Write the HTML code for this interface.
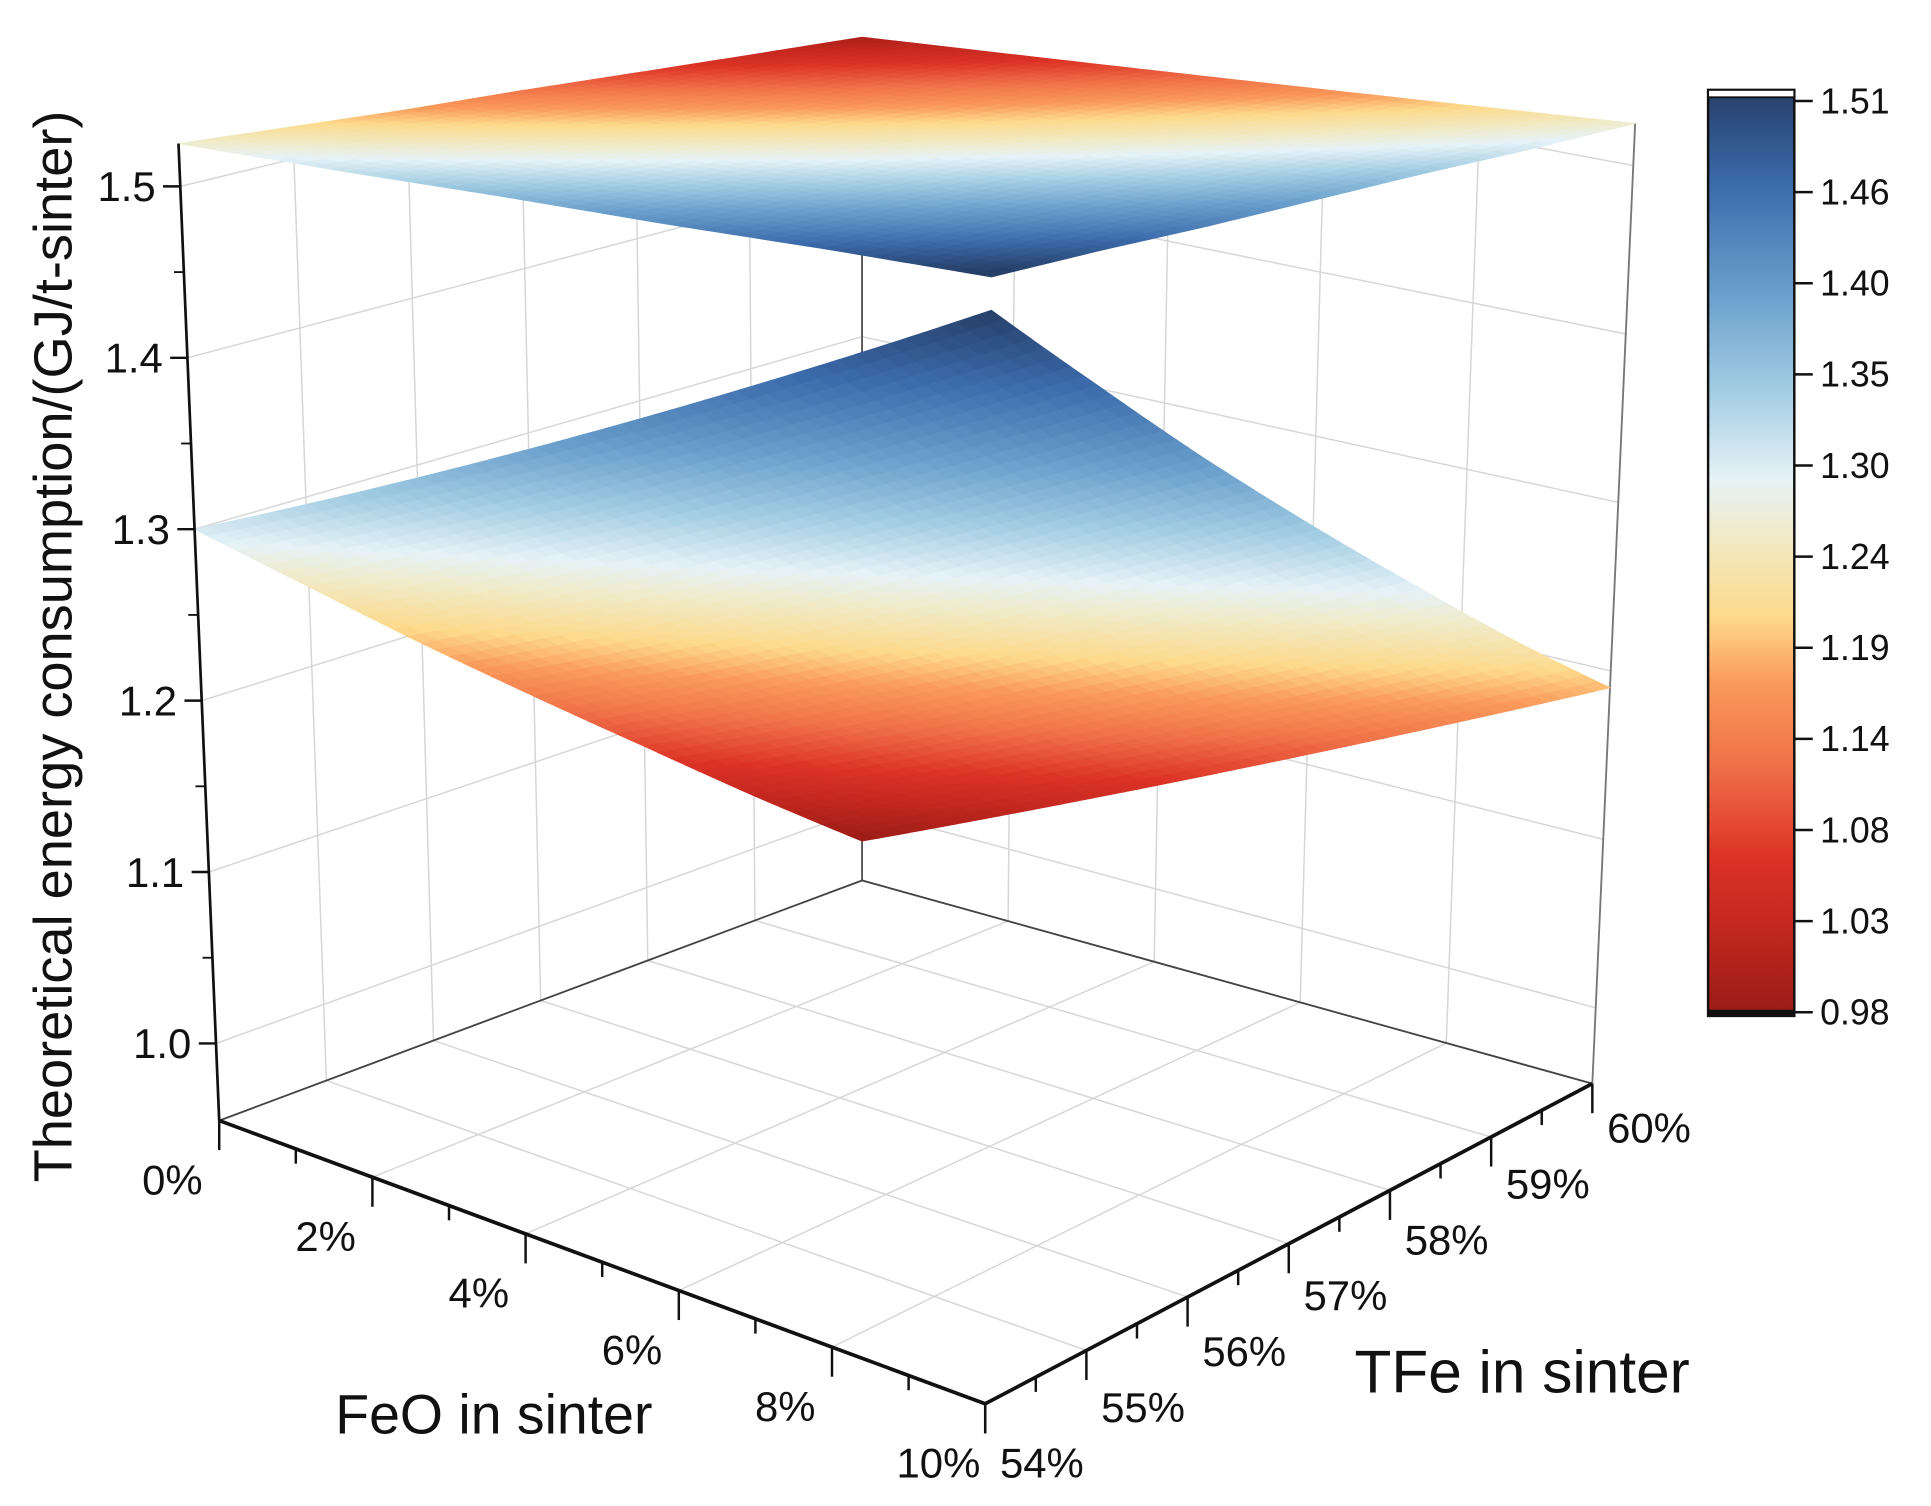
<!DOCTYPE html>
<html><head><meta charset="utf-8"><style>
html,body{margin:0;padding:0;background:#fff;}
svg{display:block;}
text{font-family:"Liberation Sans",Arial,sans-serif;fill:#111;}
</style></head><body>
<svg id="chart" width="1931" height="1506" viewBox="0 0 1568 1223" preserveAspectRatio="none" xmlns="http://www.w3.org/2000/svg">
<defs>
<linearGradient id="cbar" x1="0" y1="1" x2="0" y2="0">
<stop offset="0" stop-color="#9a1c16"/><stop offset="0.1" stop-color="#c42820"/><stop offset="0.17" stop-color="#dc3226"/><stop offset="0.27" stop-color="#f07048"/><stop offset="0.36" stop-color="#fa9a5a"/><stop offset="0.43" stop-color="#fdd98a"/><stop offset="0.52" stop-color="#f0ebc8"/><stop offset="0.58" stop-color="#e6f2f7"/><stop offset="0.68" stop-color="#a0cbe2"/><stop offset="0.78" stop-color="#6a9fcc"/><stop offset="0.9" stop-color="#3b6aaa"/><stop offset="1" stop-color="#263f68"/>
</linearGradient>
<clipPath id="wallclip"><polygon id="wallclippoly" points="0,0"/></clipPath>
</defs>
<g id="walls" clip-path="url(#wallclip)"></g>
<g id="edges"></g>
<g id="surfaces"></g>
<g id="axes"></g>
<text transform="translate(58,525) rotate(-90)" text-anchor="middle" font-size="44">Theoretical energy consumption/(GJ/t-sinter)</text>
<text x="401" y="1164" text-anchor="middle" font-size="45">FeO in sinter</text>
<text x="1236" y="1131" text-anchor="middle" font-size="49">TFe in sinter</text>
<g>
<rect x="1387" y="73" width="70" height="752" fill="url(#cbar)" stroke="#111" stroke-width="2"/>
<g id="cbticks"></g>
</g>
</svg>
<script>
// ----- data -----
const feoTicks = [0, 2, 4, 6, 8, 10];
const tfeTicks = [54, 55, 56, 57, 58, 59, 60];
const zTicks = [1.0, 1.1, 1.2, 1.3, 1.4, 1.5];
const cbLabels = ["1.51","1.46","1.40","1.35","1.30","1.24","1.19","1.14","1.08","1.03","0.98"];
// z values of the lower surface: rows = FeO (0..10 by 2), cols = TFe (54..60)
const lowerZ = [
 [1.300,1.247,1.193,1.140,1.087,1.033,0.980],
 [1.342,1.289,1.235,1.182,1.129,1.075,1.022],
 [1.384,1.331,1.277,1.224,1.171,1.117,1.064],
 [1.426,1.373,1.319,1.266,1.213,1.159,1.106],
 [1.468,1.415,1.361,1.308,1.255,1.201,1.148],
 [1.510,1.457,1.403,1.350,1.297,1.243,1.190]
];
const upperZ = [
 [1.525,1.519,1.513,1.508,1.502,1.496,1.490],
 [1.525,1.521,1.516,1.511,1.506,1.502,1.497],
 [1.526,1.522,1.519,1.515,1.511,1.508,1.504],
 [1.526,1.524,1.521,1.519,1.516,1.514,1.511],
 [1.527,1.525,1.524,1.522,1.521,1.519,1.518],
 [1.527,1.527,1.526,1.526,1.526,1.525,1.525]
];
// ----- projection -----
const ZMIN=0.955, ZMAX=1.525, FMIN=0, FMAX=10, TMIN=54, TMAX=60;
const C = {
 L:{x:178,y:910,s:1392,dx:-58},
 F:{x:800,y:1140,s:1600,dx:9},
 B:{x:700,y:715,s:1280,dx:0},
 R:{x:1293,y:880,s:1368,dx:61}
};
function proj(f,t,z){
 const a=(f-FMIN)/(FMAX-FMIN), b=(t-TMIN)/(TMAX-TMIN);
 const wL=(1-a)*(1-b), wF=a*(1-b), wB=(1-a)*b, wR=a*b;
 const k=['L','F','B','R'], w=[wL,wF,wB,wR];
 let x=0,y=0,s=0,dx=0;
 for(let i=0;i<4;i++){const c=C[k[i]];x+=c.x*w[i];y+=c.y*w[i];s+=c.s*w[i];dx+=c.dx*w[i];}
 return [x+dx*(z-ZMIN), y-s*(z-ZMIN)];
}
const stops=[[0,[154,28,22]],[0.1,[196,40,32]],[0.17,[220,50,38]],[0.27,[240,112,72]],[0.36,[250,154,90]],[0.43,[253,217,138]],[0.52,[240,235,200]],[0.58,[230,242,247]],[0.68,[160,203,226]],[0.78,[106,159,204]],[0.9,[59,106,170]],[1,[38,63,104]]];
function cmap(t){t=Math.max(0,Math.min(1,t));for(let i=1;i<stops.length;i++){if(t<=stops[i][0]){const [t0,c0]=stops[i-1],[t1,c1]=stops[i];const u=(t-t0)/(t1-t0);return 'rgb('+c0.map((v,j)=>Math.round(v+(c1[j]-v)*u)).join(',')+')';}}return 'rgb(38,63,104)';}
const NS='http://www.w3.org/2000/svg';
function el(tag,attrs,parent){const e=document.createElementNS(NS,tag);for(const k in attrs)e.setAttribute(k,attrs[k]);parent.appendChild(e);return e;}
function pts(a){return a.map(p=>p[0].toFixed(2)+','+p[1].toFixed(2)).join(' ');}
const walls=document.getElementById('walls'), edges=document.getElementById('edges'), axes=document.getElementById('axes'), surf=document.getElementById('surfaces');
const G='#d6d6d6';
// clip walls to the region below the upper surface's back edges
const nT=upperZ[0].length-1, nF=upperZ.length-1;
const clipPts=[proj(0,TMIN,ZMIN-0.01)];
clipPts.push([proj(0,TMIN,ZMIN)[0]-3,proj(0,TMIN,ZMIN)[1]]);
for(let j=0;j<=nT;j++){clipPts.push(proj(0,TMIN+j*(TMAX-TMIN)/nT,upperZ[0][j]));}
for(let i=1;i<=nF;i++){clipPts.push(proj(FMIN+i*(FMAX-FMIN)/nF,TMAX,upperZ[i][nT]));}
clipPts.push([proj(FMAX,TMAX,ZMIN)[0]+3,proj(FMAX,TMAX,ZMIN)[1]]);
clipPts.push(proj(FMAX,TMIN,ZMIN));
document.getElementById('wallclippoly').setAttribute('points',pts(clipPts));
function gl(p,q,name,parent,col,w){const l=el('line',{x1:p[0],y1:p[1],x2:q[0],y2:q[1],stroke:col||G,'stroke-width':w||1.2},parent||walls);

}
// floor grid
for(const f of feoTicks) gl(proj(f,TMIN,ZMIN),proj(f,TMAX,ZMIN),'floor-grid-feo');
for(const t of tfeTicks) gl(proj(FMIN,t,ZMIN),proj(FMAX,t,ZMIN),'floor-grid-tfe');
// left back wall (f=0)
for(const t of tfeTicks) gl(proj(0,t,ZMIN),proj(0,t,ZMAX+0.05),'left-wall-grid-v');
for(const z of zTicks) gl(proj(0,TMIN,z),proj(0,TMAX,z),'left-wall-grid-h');
// right back wall (t=60)
for(const f of feoTicks) gl(proj(f,TMAX,ZMIN),proj(f,TMAX,ZMAX+0.05),'right-wall-grid-v');
for(const z of zTicks) gl(proj(FMIN,TMAX,z),proj(FMAX,TMAX,z),'right-wall-grid-h');
// box edges
gl(proj(0,TMIN,ZMIN),proj(0,TMAX,ZMIN),'floor-back-edge-left',edges,'#444',1.5);
gl(proj(0,TMAX,ZMIN),proj(FMAX,TMAX,ZMIN),'floor-back-edge-right',edges,'#444',1.5);
gl(proj(0,TMAX,ZMIN),proj(0,TMAX,upperZ[0][nT]),'back-vertical-edge',edges,'#555',1.5);
gl(proj(FMAX,TMAX,ZMIN),proj(FMAX,TMAX,upperZ[nF][nT]),'right-vertical-edge',edges,'#777',1.5);
// surfaces
function bil(grid,fi,ti){
 const i0=Math.min(Math.floor(fi),grid.length-2),j0=Math.min(Math.floor(ti),grid[0].length-2);
 const u=fi-i0,v=ti-j0;
 return grid[i0][j0]*(1-u)*(1-v)+grid[i0+1][j0]*u*(1-v)+grid[i0][j0+1]*(1-u)*v+grid[i0+1][j0+1]*u*v;
}
function drawSurface(grid,name,colorFn){
 const g=el('g',{},surf);
 
 
 const N=48, nf=grid.length-1, nt=grid[0].length-1;
 for(let i=0;i<N;i++)for(let j=0;j<N;j++){
  const c=[[i,j],[i+1,j],[i+1,j+1],[i,j+1]].map(([a,b])=>{const fi=a/N*nf,ti=b/N*nt;const f=FMIN+a/N*(FMAX-FMIN),t=TMIN+b/N*(TMAX-TMIN);return proj(f,t,bil(grid,fi,ti));});
  const col=colorFn((i+0.5)/N*nf,(j+0.5)/N*nt,(i+0.5)/N,(j+0.5)/N);
  el('polygon',{points:pts(c),fill:col,stroke:col,'stroke-width':0.8},g);
 }
}
let lmin=Infinity,lmax=-Infinity;lowerZ.forEach(r=>r.forEach(v=>{lmin=Math.min(lmin,v);lmax=Math.max(lmax,v);}));
drawSurface(lowerZ,'lower-surface',(fi,ti)=>cmap((bil(lowerZ,fi,ti)-lmin)/(lmax-lmin)));
drawSurface(upperZ,'upper-surface',(fi,ti,a,b)=>cmap(0.53+0.49*(a-b)));
// axes
function line(p,q,w,name){const l=el('line',{x1:p[0],y1:p[1],x2:q[0],y2:q[1],stroke:'#111','stroke-width':w},axes);

}
line(proj(0,TMIN,ZMIN),proj(0,TMIN,ZMAX),2.2,'z-axis-line');
line(proj(0,TMIN,ZMIN),proj(FMAX,TMIN,ZMIN),3,'feo-axis-line');
line(proj(FMAX,TMIN,ZMIN),proj(FMAX,TMAX,ZMIN),3,'tfe-axis-line');
for(const z of zTicks){const p=proj(0,TMIN,z);line(p,[p[0]-14,p[1]],2,'z-tick');
 const tx=el('text',{x:p[0]-20,y:p[1]+12,'text-anchor':'end','font-size':34},axes);tx.textContent=z.toFixed(1);
 
 }
for(const z of zTicks){const p=proj(0,TMIN,z+0.05);if(z+0.05<ZMAX)line(p,[p[0]-8,p[1]],1.5,'z-minor-tick');}
for(const f of feoTicks){const p=proj(f,TMIN,ZMIN);line(p,[p[0],p[1]+24],2,'feo-tick');
 const tx=el('text',{x:p[0]-38,y:p[1]+60,'text-anchor':'middle','font-size':34},axes);tx.textContent=f+'%';
 
 
 if(f<FMAX){const m=proj(f+1,TMIN,ZMIN);line(m,[m[0],m[1]+12],2,'feo-minor-tick');}}
for(const t of tfeTicks){const p=proj(FMAX,t,ZMIN);line(p,[p[0],p[1]+24],2,'tfe-tick');
 const tx=el('text',{x:p[0]+46,y:p[1]+60-(t-54)*2,'text-anchor':'middle','font-size':34},axes);tx.textContent=t+'%';
 
 
 if(t<TMAX){const m=proj(FMAX,t+0.5,ZMIN);line(m,[m[0],m[1]+12],2,'tfe-minor-tick');}}
// colorbar ticks
const cb=document.getElementById('cbticks');
cbLabels.forEach((s,i)=>{const y=82+i*(822-82)/(cbLabels.length-1);
 const l=el('line',{x1:1457,y1:y,x2:1472,y2:y,stroke:'#111','stroke-width':2},cb);
 
 
 const tx=el('text',{x:1478,y:y+10,'font-size':29},cb);tx.textContent=s;
 
 });
el('rect',{x:1387,y:73,width:70,height:6,fill:'#fff',stroke:'#111','stroke-width':1.5},cb);
el('rect',{x:1387,y:820,width:70,height:5,fill:'#111'},cb);
</script>
</body></html>
